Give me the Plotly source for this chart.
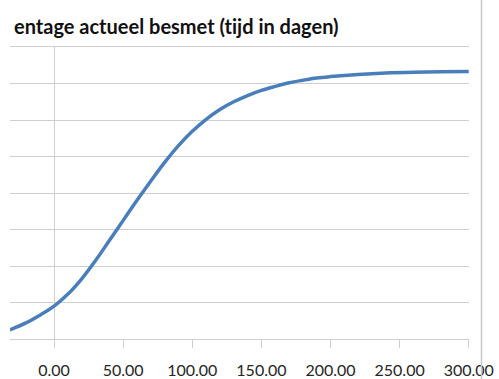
import plotly.graph_objects as go

# Data (y in gridline units; y-axis labels are cropped)
days = [-32, -20, -10, 0, 10, 20, 30, 40, 50, 60, 70, 80, 90, 100, 110, 120,
        130, 140, 150, 160, 170, 180, 190, 200, 220, 240, 260, 280, 300]
besmet = [0.25, 0.45, 0.66, 0.9, 1.23, 1.65, 2.15, 2.7, 3.25, 3.8, 4.33, 4.84,
          5.3, 5.69, 6.02, 6.29, 6.5, 6.67, 6.81, 6.92, 7.02, 7.09, 7.15, 7.19,
          7.25, 7.29, 7.31, 7.32, 7.33]
x_ticks = [0, 50, 100, 150, 200, 250, 300]
x_labels = ["0.00", "50.00", "100.00", "150.00", "200.00", "250.00", "300.00"]
title_text = "entage actueel besmet (t\u200cijd in dagen)"

fig = go.Figure()
fig.add_trace(go.Scatter(x=days, y=besmet, mode="lines",
                         line=dict(color="#4a7ebb", width=3.5, shape="spline"),
                         showlegend=False, hoverinfo="skip"))

grid = "#cfcfcf"
fig.update_layout(
    width=499, height=379,
    margin=dict(l=10, r=30, t=47, b=40, autoexpand=False),
    paper_bgcolor="white", plot_bgcolor="white",
    xaxis=dict(range=[-31.9, 300.2], tickvals=x_ticks, ticktext=x_labels,
               automargin=False, mirror=True,
               showgrid=False, zeroline=True, zerolinecolor=grid, zerolinewidth=1.3,
               showline=True, linecolor=grid, linewidth=1.3,
               ticks="outside", ticklen=8, tickcolor=grid, tickwidth=1.3,
               ticklabelstandoff=9,
               tickfont=dict(family="Lato", size=16, color="#262626")),
    yaxis=dict(range=[0, 8], dtick=1, showticklabels=False, showgrid=True,
               automargin=False,
               gridcolor=grid, gridwidth=1.3, zeroline=False, ticks=""),
    annotations=[dict(text="<b>" + title_text + "</b>", xref="paper", yref="paper",
                      x=(341 - 10) / 459, y=1 + (47 - 26) / 292,
                      xanchor="right", yanchor="middle", showarrow=False,
                      font=dict(family="Lato", size=20, color="#111111"))],
    shapes=[dict(type="line", xref="paper", yref="paper", layer="above",
                 x0=(481.5 - 10) / 459, x1=(481.5 - 10) / 459,
                 y0=1 + 47 / 292, y1=-40 / 292,
                 line=dict(color="#c8c8c8", width=1.5))],
)

fig.write_html("out.html")
